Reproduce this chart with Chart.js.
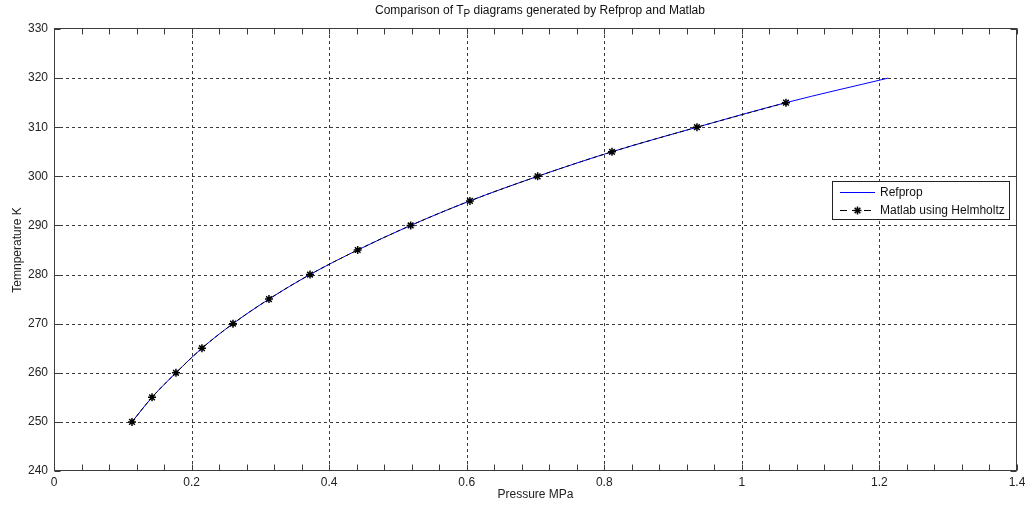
<!DOCTYPE html>
<html><head><meta charset="utf-8">
<script src="https://cdn.jsdelivr.net/npm/chart.js@4/dist/chart.umd.min.js"></script>
<style>
html,body{margin:0;padding:0;background:#fff;}
#wrap{position:relative;width:1025px;height:508px;}
#title{position:absolute;left:375px;top:3px;font:12px "Liberation Sans",Arial,sans-serif;color:#111;white-space:nowrap;}
#title sub{font-size:10px;vertical-align:-3px;line-height:0;}
canvas{display:block;}
</style></head><body>
<div id="wrap"><canvas id="c" width="1025" height="508"></canvas>
<div id="title">Comparison of T<sub>P</sub> diagrams generated by Refprop and Matlab</div></div>
<script>
// ---- data ----
const refpropTemperature = [250,255,260,265,270,275,280,285,290,295,300,305,310,315,320];
const refpropPressure    = [0.1134,0.1425,0.1773,0.2151,0.2602,0.3125,0.3722,0.4415,0.5185,0.6047,0.7031,0.8112,0.9347,1.0641,1.2128];
const matlabTemperature  = [250,255,260,265,270,275,280,285,290,295,300,305,310,315];
const matlabPressure     = [0.1134,0.1425,0.1773,0.2151,0.2602,0.3125,0.3722,0.4415,0.5185,0.6047,0.7031,0.8112,0.9347,1.0641];
const xTickLabels = ['0','0.2','0.4','0.6','0.8','1','1.2','1.4'];
const yTickLabels = ['240','250','260','270','280','290','300','310','320','330'];
const seriesNames = ['Refprop','Matlab using Helmholtz'];

const FONT = '"Liberation Sans", Arial, sans-serif';
const xMinorStep = 0.04;

const refData = refpropPressure.map((p,i)=>({x:p,y:refpropTemperature[i]}));
const matData = matlabPressure.map((p,i)=>({x:p,y:matlabTemperature[i]}));

function crisp(v){return Math.round(v)+0.5;}

const framePlugin = {
  id:'frame',
  beforeDatasetsDraw(chart){
    const {ctx, chartArea:a, scales:{x,y}} = chart;
    ctx.save();
    ctx.strokeStyle = '#3a3a3a';
    ctx.lineWidth = 1;
    ctx.setLineDash([3,3]);
    x.ticks.forEach(t=>{
      const px = x.getPixelForValue(t.value);
      if (Math.abs(px-a.left)<1 || Math.abs(px-a.right)<1) return;
      ctx.beginPath(); ctx.moveTo(crisp(px), a.top); ctx.lineTo(crisp(px), a.bottom); ctx.stroke();
    });
    y.ticks.forEach(t=>{
      const py = y.getPixelForValue(t.value);
      if (Math.abs(py-a.top)<1 || Math.abs(py-a.bottom)<1) return;
      ctx.beginPath(); ctx.moveTo(a.left, crisp(py)); ctx.lineTo(a.right, crisp(py)); ctx.stroke();
    });
    ctx.restore();
  },
  afterDatasetsDraw(chart){
    const {ctx, chartArea:a, scales:{x,y}} = chart;
    ctx.save();
    ctx.strokeStyle = '#3c3c3c';
    ctx.lineWidth = 1;
    ctx.setLineDash([]);
    const L = crisp(a.left), R = crisp(a.right)-1, T = crisp(a.top)-1, B = crisp(a.bottom)-1;
    ctx.strokeRect(L, T, R-L, B-T);
    const tl = 6;
    ctx.beginPath();
    for (let v = x.min; v <= x.max + 1e-9; v += xMinorStep) {
      const px = crisp(x.getPixelForValue(v));
      ctx.moveTo(px, B); ctx.lineTo(px, B-tl);
      ctx.moveTo(px, T); ctx.lineTo(px, T+tl);
    }
    y.ticks.forEach(t=>{
      const py = crisp(y.getPixelForValue(t.value));
      ctx.moveTo(L, py); ctx.lineTo(L+tl, py);
      ctx.moveTo(R, py); ctx.lineTo(R-tl, py);
    });
    ctx.stroke();
    ctx.restore();
  },
  afterDraw(chart){
    const ctx = chart.ctx;
    const ds = chart.data.datasets;
    const bx = 832.5, by = 181.5, bw = 177, bh = 38;
    ctx.save();
    ctx.fillStyle = '#fff';
    ctx.fillRect(bx, by, bw, bh);
    ctx.strokeStyle = '#222';
    ctx.lineWidth = 1;
    ctx.strokeRect(bx, by, bw, bh);
    const rows = [192.5, 210.5];
    ds.forEach((d,i)=>{
      const yy = rows[i];
      ctx.strokeStyle = d.borderColor;
      ctx.lineWidth = 1;
      ctx.setLineDash(d.borderDash ? [7,5] : []);
      ctx.beginPath(); ctx.moveTo(840, yy); ctx.lineTo(875, yy); ctx.stroke();
      ctx.setLineDash([]);
      if (d.pointRadius > 0) {
        const cx = 857.5, r = d.pointRadius;
        ctx.strokeStyle = d.pointBorderColor;
        ctx.lineWidth = d.pointBorderWidth;
        ctx.beginPath();
        ctx.moveTo(cx-r, yy); ctx.lineTo(cx+r, yy);
        ctx.moveTo(cx, yy-r); ctx.lineTo(cx, yy+r);
        const q = r*0.7071;
        ctx.moveTo(cx-q, yy-q); ctx.lineTo(cx+q, yy+q);
        ctx.moveTo(cx-q, yy+q); ctx.lineTo(cx+q, yy-q);
        ctx.stroke();
      }
      ctx.fillStyle = '#111';
      ctx.font = '12px ' + FONT;
      ctx.textBaseline = 'middle';
      ctx.textAlign = 'left';
      ctx.fillText(d.label, 880, yy);
    });
    ctx.restore();
  }
};

new Chart(document.getElementById('c'), {
  type:'line',
  data:{
    datasets:[
      {label:seriesNames[0], data:refData, borderColor:'#0000ff', borderWidth:1, pointRadius:0,
       fill:false, cubicInterpolationMode:'monotone', order:2},
      {label:seriesNames[1], data:matData, borderColor:'#000000', borderWidth:1, borderDash:[4,3],
       pointStyle:'star', pointRadius:4, pointBorderColor:'#000', pointBackgroundColor:'#000', pointBorderWidth:1.5,
       fill:false, cubicInterpolationMode:'monotone', order:1}
    ]
  },
  options:{
    responsive:false, animation:false, devicePixelRatio:1,
    layout:{padding:{left:0,right:8,top:29,bottom:0}},
    plugins:{legend:{display:false}, title:{display:false}, tooltip:{enabled:false}},
    scales:{
      x:{type:'linear', min:0, max:1.4,
         ticks:{stepSize:0.2, autoSkip:false, maxRotation:0, padding:4, color:'#222', font:{size:12,family:FONT},
                callback:(v,i)=> xTickLabels[i]},
         grid:{display:false, drawTicks:false}, border:{display:false},
         title:{display:true, text:'Pressure MPa', color:'#222', font:{size:12,family:FONT}, padding:{top:0,bottom:6}},
         afterFit:s=>{s.height=37; s.paddingLeft=0; s.paddingRight=0;}},
      y:{type:'linear', min:240, max:330,
         ticks:{stepSize:10, autoSkip:false, padding:6, color:'#222', font:{size:12,family:FONT},
                callback:(v,i)=> yTickLabels[i]},
         grid:{display:false, drawTicks:false}, border:{display:false},
         title:{display:true, text:'Temnperature K', color:'#222', font:{size:12,family:FONT}, padding:{top:10,bottom:0}},
         afterFit:s=>{s.width=54; s.paddingTop=0; s.paddingBottom=0;}}
    }
  },
  plugins:[framePlugin]
});
</script>
</body></html>
